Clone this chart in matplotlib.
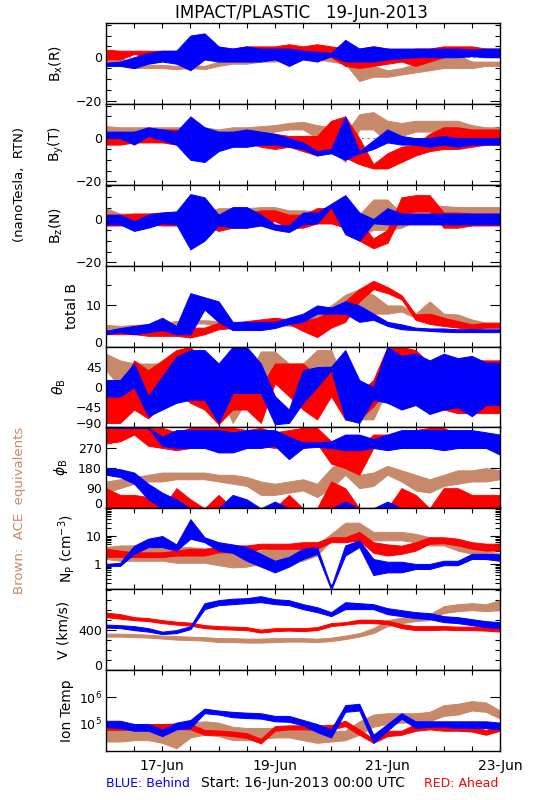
import numpy as np
import matplotlib.pyplot as plt
from matplotlib.ticker import FixedLocator, NullFormatter, NullLocator, LogLocator
from matplotlib.transforms import ScaledTranslation

plt.rcParams['font.family'] = 'DejaVu Sans'

# samples every 6 hours, in days after 16-Jun-2013 00:00 UTC
days = np.arange(0, 7.01, 0.25)
date_ticks = [1, 3, 5, 7]
date_names = ['17-Jun', '19-Jun', '21-Jun', '23-Jun']

# each trace is given as a lower/upper envelope of the noisy data
# B_x (R), nT
bx_blue_lo = [-4,-4,-5,-3,-2,-3,-6,-1,-2,-2,-2,-2,-1,-4,-1,-2,0.5,-2,-2,-2,-1,-0.5,0,0,0,0,0.5,0,0]
bx_blue_hi = [-2.5,-2,0,2,3,3,10,11,5,4,5,4,4,4,3,2.5,2,8,4,5,4,4,4,4,4,4,3.5,4,4]
bx_red_lo = [-1,-1,1.5,0,1,0,-2,-1,-1,0,1,0,0,-1,0,1,0,-4,-5,-4,-3,-2,-4,-2,0,1,1,1,1]
bx_red_hi = [3.5,3,3,3,3,3,3,3,3,4,5,5,5,6,5,6,5,4,4,5,4,3,4,4,5,5,5,4,4]
bx_ace_lo = [-2,-4,-5,-5,-5,-5.5,-5,-5.5,-4,-3,-3,-2,-2,-1,-1,-1,-2,-3,-11,-9,-9,-8,-7,-6,-5,-5,-5,-4,-4]
bx_ace_hi = [2,0,-3,-3.5,-3.5,-4,-3.5,-4,-2,0,0,1,1,2,2,1,0,0,-2,-4,-6,-5,-3,-2,0,1,-2,-2,-2]

# B_y (T)
by_blue_lo = [0,0,-3,1,-1,-3,-10,-11,-6,-4,-4,-3,-3,-4,-5,-8,-7,-10,-7,-5,-2,-3,-3,-4,-3,-4,-3,-3,-3]
by_blue_hi = [3,3,3,5,4,3,10,5,3,3,4,3,2,0,-2,-6,-5,10,-6,-1,4,1,0,0,1,0,0,0,0]
by_red_lo = [-3,-3,-2,-2,-2,-3,-3,-3,-3,-2,-2,-4,-5,-4,-6,-8,-6,-9,-12,-14,-14,-11,-8,-6,-5,-5,-4,-3,-3]
by_red_hi = [2,2,3,3,4,4,2,2,2.5,2.5,2.5,2.5,2,1,1,1,8,10,0,-12,-7,-4,-3,2,5,5,4,4,4]
by_ace_lo = [2.5,2.5,2.5,2.5,2.5,2,2,2,0,2,2,2,3,4,4,0,-5,-11,4,4,-2,1,3,3,3,2,2,2,2]
by_ace_hi = [5.5,5,5,5,5,5,5,5,4,5,5,5.5,6,7,7.5,6,5,2,11,12,8,7,8,8,8,8,6,5,5]

# B_z (N)
bz_blue_lo = [-2.5,-2.5,-5.5,-4,-2,-2.5,-14,-10,-3,-4,-4,-3,-5,-6,-2.5,-2,5.5,-7,-10,-2,-2.5,-2.5,-2.5,-2.5,-2.5,-2.5,-2.5,-2.5,-2.5]
bz_blue_hi = [2,2,-1,2,3,3.5,11.5,10,2,5.5,5.5,2,-2.5,-3,3,3,7,11,3,0,5,2.5,2.5,2.5,2.5,2.5,2.5,2.5,2.5]
bz_red_lo = [-3,-3,-2.5,-2.5,-3,-3,-2.5,-2.5,-5.5,-4,-4,-2,-1,-4,-4,-2,-2,-4,-10,-13.5,-11,2,3.5,3.5,-4,-4,-3,-3,-3]
bz_red_hi = [2,2,2.5,2.5,3,3,2.5,2.5,0.5,2.5,2.5,4,4,2,2,5,5,8,-1,-9,-5,10,11,11,3,3,2.5,2.5,2.5]
bz_ace_lo = [2,0,-0.5,-0.5,-1,-1,-1,-1,0.5,0.5,0.5,0.5,0.5,0,0,-2,-2,-3,-8,-5,-5,-4,-1,-1,-1,0,0,0,0]
bz_ace_hi = [5,2.5,2.5,2.5,2.5,2.5,2.5,2.5,5,5,5,5.5,5.5,4,4,3.5,3.5,5,2,9,9,2.5,6,6,6,5.5,5.5,5.5,5.5]

# total B
bt_blue_lo = [3,3.5,3,3.5,4,3,3,9,6,4,4,4,4.5,5.5,6,8,8,8,6,6.5,5,4.2,4,3.8,3.6,3.5,3.5,3.5,3.5]
bt_blue_hi = [3.8,4.5,5,5.5,7,5,13,12,11,6,6,6,6,7,8,10,9.5,11,10,8,6,5.4,4.6,4.4,4.4,4.2,4.2,4.2,4.2]
bt_red_lo = [3,3,3,2.6,2.6,2.6,2.2,3,4.2,4.5,5.5,5.8,6,5.5,3.8,2.3,4.6,6,11,14,13,11.5,6.5,5.5,5,4.6,4.2,4.6,4.6]
bt_red_hi = [4,4,4.5,4.2,4.2,4.6,4.6,4.6,5.8,5.8,6.2,6.6,7,6.6,6.2,7,8.6,11,14,16,14.5,12.5,7.8,8,7,6.2,5.4,5.8,5.8]
bt_ace_lo = [4.2,3.8,4.2,4.2,4.6,5.4,5.6,5.6,5,4.6,4.6,5.4,5.4,5,5.4,6,8,9.5,9.5,8,8,8.5,7,7,6,5.8,4.6,4.6,4.6]
bt_ace_hi = [5.3,5,5.3,5.4,5.8,6.2,6.4,6.4,6.2,5.8,5.8,6.2,6.4,6.2,7,8,10,12.6,14,12.6,10,10,8,11,8,7.8,6.6,5.8,5.8]

# theta_B, degrees
th_blue_lo = [-21,-21,0,-65,-50,-35,-28,-28,-80,-13,-13,-13,-83,-80,-35,0,38,-72,-80,-28,-35,-50,-40,-60,-50,-45,-65,-40,-40]
th_blue_hi = [16,16,53,-20,24,68,83,83,53,90,90,53,-20,-50,38,45,46,83,16,0,90,70,75,60,75,65,70,55,55]
th_red_lo = [-80,-80,-50,-70,-40,-13,-35,-50,-83,-50,-50,-80,9,-20,-50,-72,-20,-72,-72,-43,-6,-6,-35,-50,-50,-58,-58,-58,-58]
th_red_hi = [-6,-6,60,38,60,83,90,53,9,53,53,0,53,53,53,24,38,9,-13,16,90,90,83,53,53,60,60,60,60]
th_ace_lo = [38,0,-20,-20,0,0,-6,-6,-6,-80,-30,24,24,0,0,24,24,-65,-72,-72,-6,-6,0,-13,-13,-6,-6,-6,-6]
th_ace_hi = [75,60,53,53,53,53,38,38,38,-20,20,80,80,53,53,83,83,9,-20,-20,53,53,68,53,53,53,53,53,53]

# phi_B, degrees: the spacecraft traces split into an upper and a lower cluster
ph_blue_up_lo = [360,360,360,360,280,270,270,270,250,250,270,270,280,220,270,275,270,260,260,270,260,270,270,270,260,270,270,270,240]
ph_blue_up_hi = [360,360,360,360,320,350,350,350,350,340,350,350,350,320,295,295,300,330,330,310,330,350,350,350,350,350,350,340,330]
ph_blue_dn_lo = [150,140,110,40,0,0,0,0,0,0,0,0,0,0,0,0,0,0,0,0,0,0,0,0,0,0,0,0,0]
ph_blue_dn_hi = [180,175,160,110,70,40,0,0,0,60,40,0,30,0,0,0,0,30,0,0,30,0,0,0,0,0,0,0,0]
ph_red_up_lo = [290,300,330,280,270,260,270,280,300,270,270,280,270,280,290,290,200,180,150,270,270,270,270,270,280,270,270,270,270]
ph_red_up_hi = [360,360,360,360,360,340,360,360,360,360,350,360,340,350,360,360,300,280,270,330,330,320,350,360,360,330,320,300,300]
ph_red_dn_lo = [0,0,0,0,0,0,0,0,0,0,0,0,0,0,0,0,0,30,0,0,0,0,0,0,0,0,0,0,0]
ph_red_dn_hi = [90,60,60,50,0,90,40,0,60,0,0,0,0,60,0,0,120,90,0,0,0,90,60,0,90,90,60,60,60]
ph_ace_lo = [70,90,110,120,120,130,130,130,120,110,100,60,60,70,80,50,90,150,90,100,150,120,80,70,100,110,120,120,130]
ph_ace_hi = [120,130,140,150,160,160,160,160,150,150,140,120,110,120,130,110,180,220,150,160,190,170,150,130,150,170,170,180,170]

# proton density, cm^-3
np_blue_lo = [0.85,0.85,2.3,4,4,3,8,6,3,2.5,1.3,0.8,0.5,0.8,1.5,2.3,0.12,2,4,0.4,0.5,0.5,0.66,0.66,0.9,0.9,1.5,1.5,1.3]
np_blue_hi = [1.0,1.1,4.5,8,10,5,40,9,6,5,4,2.3,1.3,1.8,3.5,4,0.15,4.6,7,1.5,1.2,1.2,1.0,1.0,1.3,1.3,2.3,2.3,2.2]
np_red_lo = [1.8,1.8,1.75,1.75,1.75,2,2,2,2.6,2.6,2.6,3.5,3.5,3.5,3.5,3.5,6,6,7,2.5,2,2.3,3,5.3,5.5,4.6,3.5,3,3]
np_red_hi = [3.5,3,2.6,2.6,2.6,3,3.5,3.5,4.2,4.6,4.6,5.3,5.3,5.3,6,6,9,9,14,6,5,4.5,6,9,9,8,6,5.3,5.3]
np_ace_lo = [1.5,1.3,1.3,1.3,1.3,1.1,1.1,1.1,0.9,0.75,0.8,1,1.1,1.3,1.3,2,7,9,8,7,7,7,6,4.6,4.6,3,2.3,1.5,1.3]
np_ace_hi = [4,4.6,4.6,4,4,4,4,3.5,3,3,3,3,4,4,4.6,5,12,30,30,14,14,14,12,9,8,5,4.6,3,2.3]

# bulk speed, km/s
v_blue_lo = [425,420,400,385,360,370,410,610,650,660,670,680,660,650,610,580,540,610,610,610,560,540,520,510,480,470,450,430,420]
v_blue_hi = [455,450,440,420,385,400,440,670,700,715,720,740,710,700,660,630,580,680,670,660,620,600,580,570,540,530,510,490,480]
v_red_lo = [530,515,500,490,470,455,445,420,410,405,400,375,390,395,390,400,440,455,470,470,460,420,400,400,405,400,400,395,385]
v_red_hi = [575,560,530,520,500,485,475,450,440,435,430,405,420,420,420,430,470,480,505,505,495,460,440,440,440,435,435,430,420]
v_ace_lo = [335,335,330,325,315,305,300,295,280,280,275,275,280,285,285,280,290,310,335,370,440,470,490,500,570,590,600,590,600]
v_ace_hi = [365,365,360,355,345,340,335,330,320,320,315,315,320,320,320,315,325,345,370,420,500,525,545,560,640,660,670,660,700]

# ion temperature, log10(K)
lt_blue_lo = [4.88,4.85,4.75,4.75,4.55,4.8,4.85,5.4,5.35,5.25,5.22,5.2,5.1,5.08,4.95,4.7,4.5,5.45,5.5,4.3,4.75,5.2,4.85,4.9,4.9,4.85,4.85,4.85,4.8]
lt_blue_hi = [5.12,5.12,5.0,5.0,4.8,5.05,5.15,5.57,5.5,5.45,5.42,5.4,5.3,5.3,5.15,5.0,4.8,5.7,5.75,4.6,5.0,5.4,5.1,5.1,5.1,5.1,5.1,5.1,5.05]
lt_red_lo = [4.78,4.78,4.8,4.8,4.8,4.82,4.8,4.6,4.6,4.55,4.48,4.28,4.75,4.8,4.8,4.78,4.8,4.92,4.6,4.3,4.55,4.6,4.75,4.8,4.75,4.75,4.72,4.6,4.75]
lt_red_hi = [5.0,5.0,5.0,5.0,5.0,5.02,5.0,4.78,4.76,4.72,4.66,4.45,4.92,4.95,4.95,4.95,4.96,5.12,4.8,4.45,4.75,4.75,5.0,5.0,4.95,4.92,4.9,4.78,4.95]
lt_ace_lo = [4.35,4.35,4.4,4.4,4.3,4.1,4.5,4.6,4.55,4.4,4.4,4.45,4.5,4.5,4.4,4.3,4.35,4.4,4.6,4.9,5.0,5.05,5.05,5.1,5.3,5.35,5.5,5.45,5.2]
lt_ace_hi = [4.75,4.8,4.8,4.85,4.95,5.0,5.05,5.1,5.05,4.9,4.85,4.85,4.85,4.85,4.8,4.75,4.75,4.75,5.1,5.35,5.4,5.4,5.4,5.45,5.7,5.75,5.85,5.8,5.5]

RED = '#ff0000'
BLUE = '#0000ff'
BROWN = '#c8896b'

fig, axes = plt.subplots(9, 1, figsize=(5.5, 8), dpi=100, sharex=True)
fig.subplots_adjust(left=0.1927, right=0.9091, top=0.9713, bottom=0.0613, hspace=0)


def band(ax, lo, hi, color):
    ax.fill_between(days, lo, hi, color=color, lw=0.7, zorder=2)


# brown (ACE) first, then red (Ahead), blue (Behind) on top
traces = [
    [(bx_ace_lo, bx_ace_hi, BROWN), (bx_red_lo, bx_red_hi, RED), (bx_blue_lo, bx_blue_hi, BLUE)],
    [(by_ace_lo, by_ace_hi, BROWN), (by_red_lo, by_red_hi, RED), (by_blue_lo, by_blue_hi, BLUE)],
    [(bz_ace_lo, bz_ace_hi, BROWN), (bz_red_lo, bz_red_hi, RED), (bz_blue_lo, bz_blue_hi, BLUE)],
    [(bt_ace_lo, bt_ace_hi, BROWN), (bt_red_lo, bt_red_hi, RED), (bt_blue_lo, bt_blue_hi, BLUE)],
    [(th_ace_lo, th_ace_hi, BROWN), (th_red_lo, th_red_hi, RED), (th_blue_lo, th_blue_hi, BLUE)],
    [(ph_ace_lo, ph_ace_hi, BROWN), (ph_red_up_lo, ph_red_up_hi, RED), (ph_red_dn_lo, ph_red_dn_hi, RED),
     (ph_blue_up_lo, ph_blue_up_hi, BLUE), (ph_blue_dn_lo, ph_blue_dn_hi, BLUE)],
    [(np_ace_lo, np_ace_hi, BROWN), (np_red_lo, np_red_hi, RED), (np_blue_lo, np_blue_hi, BLUE)],
    [(v_ace_lo, v_ace_hi, BROWN), (v_red_lo, v_red_hi, RED), (v_blue_lo, v_blue_hi, BLUE)],
    [(10 ** np.array(lt_ace_lo), 10 ** np.array(lt_ace_hi), BROWN),
     (10 ** np.array(lt_red_lo), 10 ** np.array(lt_red_hi), RED),
     (10 ** np.array(lt_blue_lo), 10 ** np.array(lt_blue_hi), BLUE)],
]

# ylabel, label x (axes frac), ylim, major ticks, tick labels, minor ticks, log
specs = [
    (r'B$_\mathregular{x}$(R)', -0.125, (-21.5, 15.8), [-20, 0], ['\u221220', '0'], [-15, -10, -5, 5, 10, 15], False),
    (r'B$_\mathregular{y}$(T)', -0.125, (-21.5, 15.8), [-20, 0], ['\u221220', '0'], [-15, -10, -5, 5, 10, 15], False),
    (r'B$_\mathregular{z}$(N)', -0.125, (-21.5, 15.8), [-20, 0], ['\u221220', '0'], [-15, -10, -5, 5, 10, 15], False),
    ('total B', -0.086, (0, 19.7), [0, 10], ['0', '10'], [5, 15], False),
    (r'$\theta_\mathregular{B}$', -0.119, (-90, 91), [-90, -45, 0, 45], ['\u221290', '\u221245', '0', '45'], None, False),
    (r'$\phi_\mathregular{B}$', -0.114, (0, 362), [0, 90, 180, 270], ['0', '90', '180', '270'], None, False),
    (r'N$_\mathregular{P}$ (cm$^{-3}$)', -0.100, (0.125, 98), [1, 10], ['1', '10'], 'log', True),
    ('V (km/s)', -0.109, (0, 810), [0, 400], ['0', '400'], [100, 200, 300, 500, 600, 700, 800], False),
    ('Ion Temp', -0.100, (1.0e4, 1.0e7), [1e5, 1e6], [r'10$^\mathregular{5}$', r'10$^\mathregular{6}$'], None, True),
]

for ax, tr, (ylab, xl, ylim, major, labels, minor, log) in zip(axes, traces, specs):
    if log:
        ax.set_yscale('log')
    for lo, hi, col in tr:
        band(ax, lo, hi, col)
    if ylab.startswith('B$'):
        ax.axhline(0, color='#888888', lw=0.8, ls=(0, (2, 3)), zorder=1)
    ax.set_xlim(0, 7)
    ax.set_ylim(ylim)
    ax.set_yticks(major)
    ax.set_yticklabels(labels)
    if minor == 'log':
        ax.yaxis.set_minor_locator(LogLocator(base=10, subs=range(2, 10)))
    elif minor is None:
        ax.yaxis.set_minor_locator(NullLocator())
    else:
        ax.yaxis.set_minor_locator(FixedLocator(minor))
    ax.yaxis.set_minor_formatter(NullFormatter())
    ax.set_ylabel(ylab, fontsize=10, va='center')
    ax.yaxis.set_label_coords(xl, 0.5)
    ax.tick_params(axis='x', which='both', direction='in', top=True, length=3.5, width=0.8)
    ax.tick_params(axis='y', which='major', direction='in', right=True, length=7, width=0.8,
                   labelsize=9, pad=3)
    ax.tick_params(axis='y', which='minor', direction='in', right=True, length=3.5, width=0.8)
    for s in ax.spines.values():
        s.set_linewidth(1.0)

axes[-1].set_xticks(date_ticks)
axes[-1].set_xticks(np.arange(0.5, 7, 0.5), minor=True)
axes[-1].set_xticklabels(date_names, fontsize=10)
axes[-1].tick_params(axis='x', pad=6)

# IDL lifts the lowest label that sits on the bottom frame by a few pixels
lift = ScaledTranslation(0, 3.5 / 72, fig.dpi_scale_trans)
for ax in [axes[3], axes[4], axes[5], axes[7]]:
    lab = ax.yaxis.get_major_ticks()[0].label1
    lab.set_transform(lab.get_transform() + lift)

fig.text(0.548, 0.984, 'IMPACT/PLASTIC   19-Jun-2013', ha='center', va='center', fontsize=12)
fig.text(0.036, 0.769, '(nanoTesla,  RTN)', rotation=90, ha='center', va='center', fontsize=9.5)
fig.text(0.036, 0.3625, 'Brown:  ACE  equivalents', rotation=90, ha='center', va='center',
         fontsize=9.5, color=BROWN)
fig.text(0.1927, 0.021, 'BLUE: Behind', color=BLUE, ha='left', va='center', fontsize=9)
fig.text(0.551, 0.021, 'Start: 16-Jun-2013 00:00 UTC', ha='center', va='center', fontsize=10)
fig.text(0.907, 0.021, 'RED: Ahead', color=RED, ha='right', va='center', fontsize=9)

fig.savefig('out.png', dpi=100)
